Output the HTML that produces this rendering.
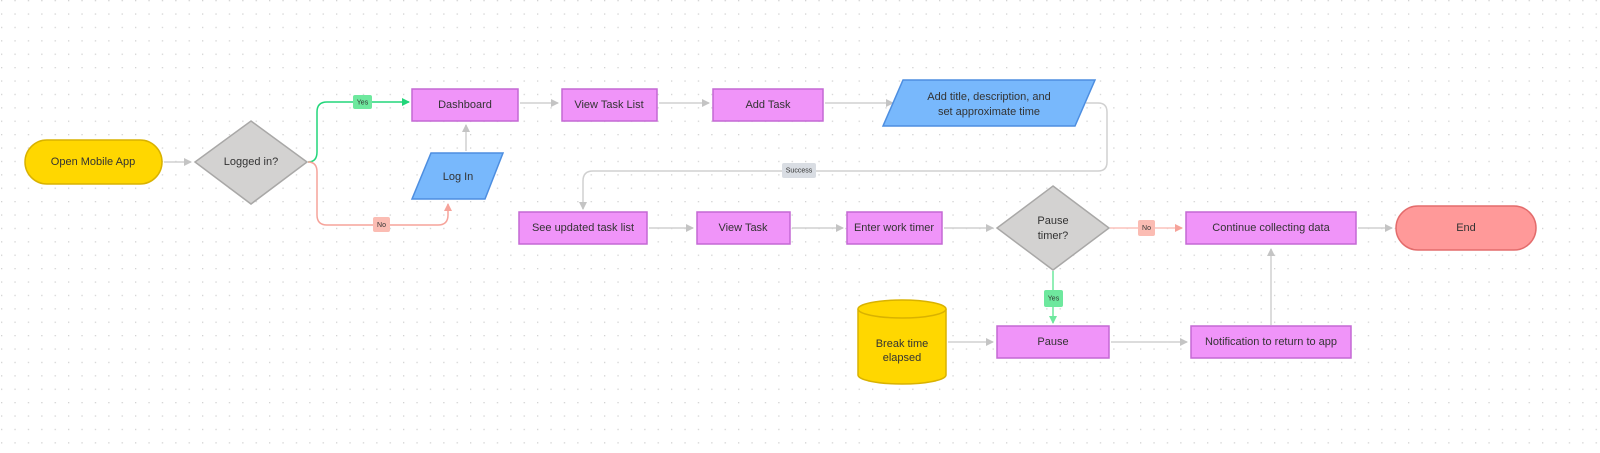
<!DOCTYPE html>
<html><head><meta charset="utf-8"><style>
html,body{margin:0;padding:0;background:#fff;}
svg{display:block;font-family:"Liberation Sans",sans-serif;}
text{font-size:11px;fill:#333;text-anchor:middle;dominant-baseline:middle;}
.s{font-size:7px;}
</style></head><body>
<svg width="1600" height="453" viewBox="0 0 1600 453">
<defs>
<pattern id="dots" x="1" y="0" width="13.4" height="13.4" patternUnits="userSpaceOnUse">
<rect x="0" y="0" width="1.3" height="1.3" fill="#d2d2d2"/>
</pattern>
<marker id="ag" markerWidth="8" markerHeight="8" refX="7" refY="4" orient="auto" markerUnits="userSpaceOnUse"><path d="M0,0 L8,4 L0,8 z" fill="#c4c4c4"/></marker>
<marker id="agr" markerWidth="8" markerHeight="8" refX="7" refY="4" orient="auto" markerUnits="userSpaceOnUse"><path d="M0,0 L8,4 L0,8 z" fill="#22d67a"/></marker>
<marker id="ar" markerWidth="8" markerHeight="8" refX="7" refY="4" orient="auto" markerUnits="userSpaceOnUse"><path d="M0,0 L8,4 L0,8 z" fill="#f6a39a"/></marker>
<marker id="ag2" markerWidth="8" markerHeight="8" refX="7" refY="4" orient="auto" markerUnits="userSpaceOnUse"><path d="M0,0 L8,4 L0,8 z" fill="#6ee89e"/></marker>
</defs>
<rect width="1600" height="453" fill="url(#dots)"/>

<g fill="none" stroke-width="1.5">
<path d="M164,162 H191" stroke="#d0d0d0" marker-end="url(#ag)"/>
<path d="M308,162 Q317,162 317,152 V112 Q317,102 327,102 H409" stroke="#22d67a" marker-end="url(#agr)"/>
<path d="M308,162 Q317,162 317,172 V215 Q317,225 327,225 H438 Q448,225 448,215 V204" stroke="#f6a39a" marker-end="url(#ar)"/>
<path d="M466,151 V125" stroke="#d0d0d0" marker-end="url(#ag)"/>
<path d="M520,103 H558" stroke="#d0d0d0" marker-end="url(#ag)"/>
<path d="M659,103 H709" stroke="#d0d0d0" marker-end="url(#ag)"/>
<path d="M825,103 H893" stroke="#d0d0d0" marker-end="url(#ag)"/>
<path d="M1086,103 H1098 Q1107,103 1107,112 V162 Q1107,171 1098,171 H593 Q583,171 583,181 V209" stroke="#d0d0d0" marker-end="url(#ag)"/>
<path d="M649,228 H693" stroke="#d0d0d0" marker-end="url(#ag)"/>
<path d="M792,228 H843" stroke="#d0d0d0" marker-end="url(#ag)"/>
<path d="M944,228 H993" stroke="#d0d0d0" marker-end="url(#ag)"/>
<path d="M1110,228 H1182" stroke="#fbc2bb" marker-end="url(#ar)"/>
<path d="M1358,228 H1392" stroke="#d0d0d0" marker-end="url(#ag)"/>
<path d="M1053,271 V323" stroke="#6ee89e" marker-end="url(#ag2)"/>
<path d="M948,342 H993" stroke="#d0d0d0" marker-end="url(#ag)"/>
<path d="M1111,342 H1187" stroke="#d0d0d0" marker-end="url(#ag)"/>
<path d="M1271,325 V249" stroke="#d0d0d0" marker-end="url(#ag)"/>
</g>

<!-- nodes -->
<rect x="25" y="140" width="137" height="44" rx="22" fill="#ffd700" stroke="#d9b200" stroke-width="1.5"/>
<text x="93" y="162">Open Mobile App</text>
<polygon points="251,121 307,162 251,204 195,162" fill="#d3d2d1" stroke="#a9a8a7" stroke-width="1.5"/>
<text x="251" y="162">Logged in?</text>

<rect x="412" y="89" width="106" height="32" fill="#f094f9" stroke="#c468d4" stroke-width="1.5"/>
<text x="465" y="105">Dashboard</text>
<polygon points="431,153 503,153 485,199 412,199" fill="#78b8fc" stroke="#4d8ee0" stroke-width="1.5"/>
<text x="458" y="177">Log In</text>
<rect x="562" y="89" width="95" height="32" fill="#f094f9" stroke="#c468d4" stroke-width="1.5"/>
<text x="609" y="105">View Task List</text>
<rect x="713" y="89" width="110" height="32" fill="#f094f9" stroke="#c468d4" stroke-width="1.5"/>
<text x="768" y="105">Add Task</text>
<polygon points="903,80 1095,80 1075,126 883,126" fill="#78b8fc" stroke="#4d8ee0" stroke-width="1.5"/>
<text x="989" y="97">Add title, description, and</text>
<text x="989" y="112">set approximate time</text>

<rect x="519" y="212" width="128" height="32" fill="#f094f9" stroke="#c468d4" stroke-width="1.5"/>
<text x="583" y="228">See updated task list</text>
<rect x="697" y="212" width="93" height="32" fill="#f094f9" stroke="#c468d4" stroke-width="1.5"/>
<text x="743" y="228">View Task</text>
<rect x="847" y="212" width="95" height="32" fill="#f094f9" stroke="#c468d4" stroke-width="1.5"/>
<text x="894" y="228">Enter work timer</text>
<polygon points="1053,186 1109,228 1053,270 997,228" fill="#d3d2d1" stroke="#a9a8a7" stroke-width="1.5"/>
<text x="1053" y="221">Pause</text>
<text x="1053" y="236">timer?</text>
<rect x="1186" y="212" width="170" height="32" fill="#f094f9" stroke="#c468d4" stroke-width="1.5"/>
<text x="1271" y="228">Continue collecting data</text>
<rect x="1396" y="206" width="140" height="44" rx="22" fill="#ff9999" stroke="#e36c6c" stroke-width="1.5"/>
<text x="1466" y="228">End</text>

<path d="M858,309 V375 A44,9 0 0 0 946,375 V309" fill="#ffd700" stroke="#d9b200" stroke-width="1.5"/>
<ellipse cx="902" cy="309" rx="44" ry="9" fill="#ffd700" stroke="#d9b200" stroke-width="1.5"/>
<text x="902" y="344">Break time</text>
<text x="902" y="358">elapsed</text>
<rect x="997" y="326" width="112" height="32" fill="#f094f9" stroke="#c468d4" stroke-width="1.5"/>
<text x="1053" y="342">Pause</text>
<rect x="1191" y="326" width="160" height="32" fill="#f094f9" stroke="#c468d4" stroke-width="1.5"/>
<text x="1271" y="342">Notification to return to app</text>

<!-- labels -->
<rect x="353" y="95" width="19" height="14" rx="2" fill="#6ee89e"/>
<text class="s" x="362.5" y="102.5">Yes</text>
<rect x="373" y="217" width="17" height="15" rx="2" fill="#fbbcb3"/>
<text class="s" x="381.5" y="225">No</text>
<rect x="782" y="163" width="34" height="15" rx="2" fill="#d9dde3"/>
<text class="s" x="799" y="170.5">Success</text>
<rect x="1138" y="220" width="17" height="16" rx="2" fill="#fbbcb3"/>
<text class="s" x="1146.5" y="228">No</text>
<rect x="1044" y="290" width="19" height="17" rx="2" fill="#6ee89e"/>
<text class="s" x="1053.5" y="298.5">Yes</text>
</svg>
</body></html>
